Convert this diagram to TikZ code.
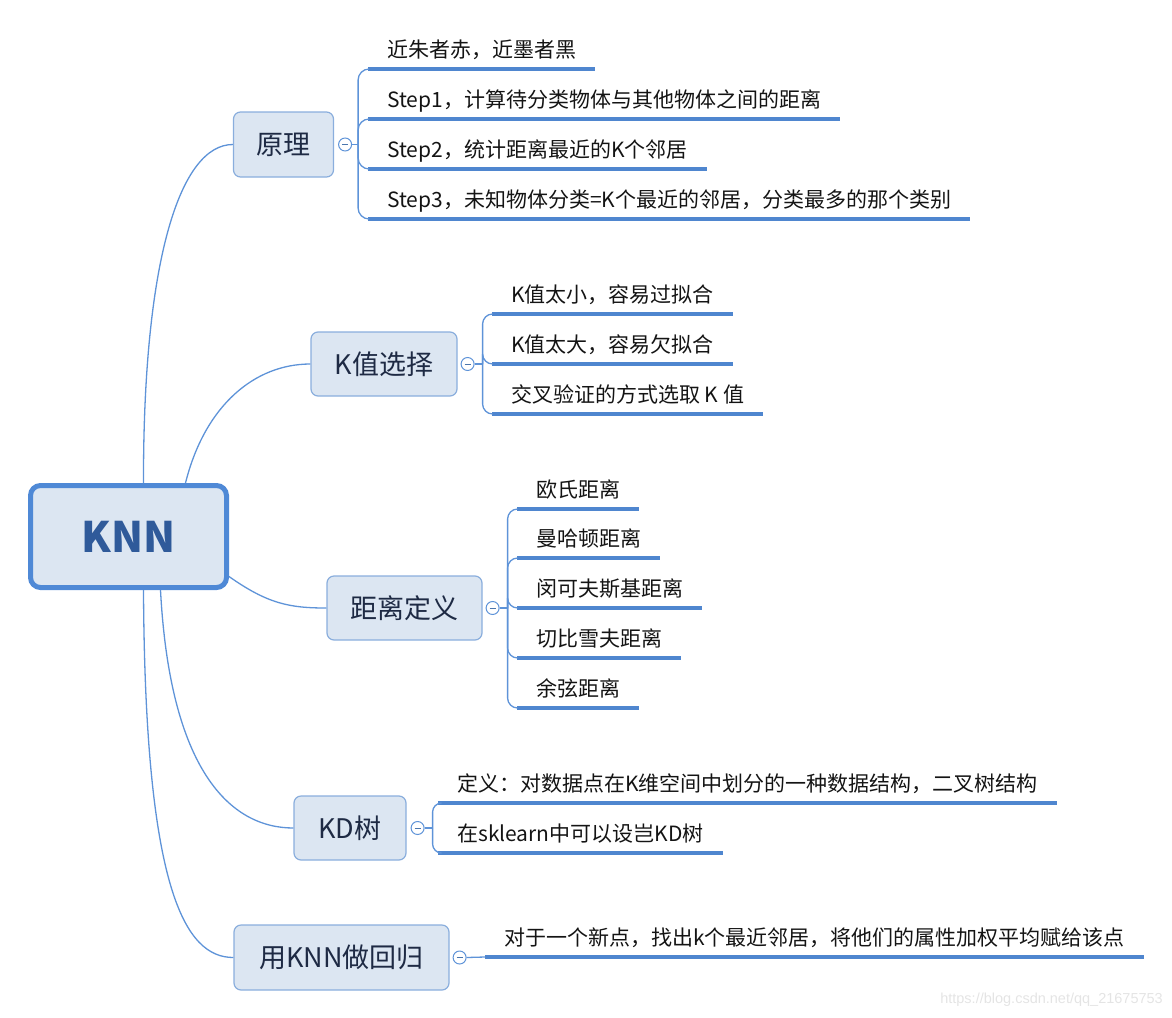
\documentclass[tikz,border=0pt]{standalone}
\usepackage{fontspec}
\setmainfont{Noto Sans CJK SC}
\newfontfamily\wmfont{Liberation Sans}
\definecolor{conncol}{HTML}{5E93D8}
\definecolor{ulcol}{HTML}{4F86CF}
\definecolor{boxfill}{HTML}{DCE6F2}
\definecolor{boxline}{HTML}{8AAEDD}
\definecolor{boxtext}{HTML}{1E2A44}
\definecolor{knnline}{HTML}{4F89D6}
\definecolor{knntext}{HTML}{2F5A9A}
\definecolor{leaftext}{HTML}{141414}
\definecolor{wmcol}{HTML}{E4E4E4}
\begin{document}
\begin{tikzpicture}[x=1pt,y=-1pt,
  conn/.style={draw=conncol, line width=1.3},
  uline/.style={draw=ulcol, line width=4},
  branchbox/.style={draw=boxline, fill=boxfill, rounded corners=7, line width=1.2,
    font=\fontsize{27}{32}\selectfont, text=boxtext, inner sep=0},
  rootbox/.style={draw=knnline, fill=boxfill, rounded corners=10, line width=5,
    font=\fontsize{42}{48}\selectfont\bfseries, text=knntext, inner sep=0,
    minimum width=196, minimum height=102},
  collapse/.style={circle, draw=conncol, fill=white, line width=1, minimum size=13, inner sep=0,
    path picture={\draw[draw=conncol!80!black, line width=0.8]
      ([xshift=-3]path picture bounding box.center) -- ([xshift=3]path picture bounding box.center);}},
  leaf/.style={anchor=south west, inner xsep=19, inner ysep=6.2, text height=16, text depth=5,
    font=\fontsize{21}{24}\selectfont, text=leaftext},
  wm/.style={font=\wmfont\fontsize{14.5}{17}\selectfont, text=wmcol, inner sep=0}
]
\useasboundingbox (0,0) rectangle (1172,1017);

% root
\node[rootbox] (knn) at (128.5,536.5) {KNN};

% branches
\node[branchbox, minimum width=100, minimum height=65] (b1) at (283.5,144.5) {原理};
\node[branchbox, minimum width=146, minimum height=64] (b2) at (384,364) {K值选择};
\node[branchbox, minimum width=155, minimum height=64] (b3) at (404.5,608) {距离定义};
\node[branchbox, minimum width=112, minimum height=64] (b4) at (350,828) {KD树};
\node[branchbox, minimum width=215, minimum height=65] (b5) at (341.5,957.5) {用KNN做回归};

% collapse markers
\node[collapse] (c1) at ([xshift=11]b1.east) {};
\node[collapse] (c2) at ([xshift=10]b2.east) {};
\node[collapse] (c3) at ([xshift=10]b3.east) {};
\node[collapse] (c4) at ([xshift=11]b4.east) {};
\node[collapse] (c5) at ([xshift=10]b5.east) {};

% root connectors
\draw[conn] ([xshift=15]knn.north) .. controls (143,260) and (180,144.5) .. (b1.west);
\draw[conn] ([xshift=57]knn.north) .. controls (205,405) and (255,364) .. (b2.west);
\draw[conn] ([yshift=-40]knn.east) .. controls (268,604) and (290,608) .. (b3.west);
\draw[conn] ([xshift=32]knn.south) .. controls (170,770) and (230,828) .. (b4.west);
\draw[conn] ([xshift=15]knn.south) .. controls (145,890) and (185,957.5) .. (b5.west);

% leaves: 原理
\node[leaf] (l11) at (368,69) {近朱者赤，近墨者黑};
\node[leaf] (l12) at (368,119) {Step1，计算待分类物体与其他物体之间的距离};
\node[leaf] (l13) at (368,169) {Step2，统计距离最近的K个邻居};
\node[leaf] (l14) at (368,219) {Step3，未知物体分类=K个最近的邻居，分类最多的那个类别};
% leaves: K值选择
\node[leaf] (l21) at (492,314) {K值太小，容易过拟合};
\node[leaf] (l22) at (492,364) {K值太大，容易欠拟合};
\node[leaf] (l23) at (492,414) {交叉验证的方式选取 K 值};
% leaves: 距离定义
\node[leaf] (l31) at (517,509) {欧氏距离};
\node[leaf] (l32) at (517,558) {曼哈顿距离};
\node[leaf] (l33) at (517,608) {闵可夫斯基距离};
\node[leaf] (l34) at (517,658) {切比雪夫距离};
\node[leaf] (l35) at (517,708) {余弦距离};
% leaves: KD树
\node[leaf] (l41) at (438,803) {定义：对数据点在K维空间中划分的一种数据结构，二叉树结构};
\node[leaf] (l42) at (438,853) {在sklearn中可以设岂KD树};
% leaves: 用KNN做回归
\node[leaf] (l51) at (485,957) {对于一个新点，找出k个最近邻居，将他们的属性加权平均赋给该点};

% underlines
\foreach \l in {l11,l12,l13,l14,l21,l22,l23,l31,l32,l33,l34,l35,l41,l42,l51}
  \draw[uline] (\l.south west) -- (\l.south east);

% tree connectors
\draw[conn] (c1.east) -- ++(6,0) coordinate (j1);
\foreach \l in {l11,l12,l13,l14} \draw[conn, rounded corners=11] (j1) |- (\l.south west);
\draw[conn] (c2.east) -- ++(8,0) coordinate (j2);
\foreach \l in {l21,l22,l23} \draw[conn, rounded corners=10] (j2) |- (\l.south west);
\draw[conn] (c3.east) -- ++(8,0) coordinate (j3);
\foreach \l in {l31,l32,l33,l34,l35} \draw[conn, rounded corners=10] (j3) |- (\l.south west);
\draw[conn] (c4.east) -- ++(8,0) coordinate (j4);
\foreach \l in {l41,l42} \draw[conn, rounded corners=9] (j4) |- (\l.south west);
\draw[conn] (c5.east) -- (l51.south west);

% watermark
\node[wm, anchor=east] (wm) at (1163,1000) {https://blog.csdn.net/qq\_21675753};
\end{tikzpicture}
\end{document}
